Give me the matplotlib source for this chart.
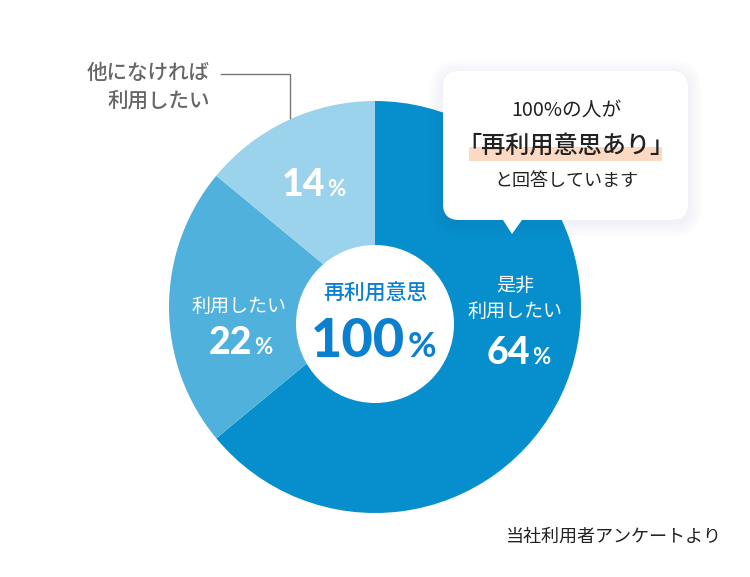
import matplotlib
matplotlib.use("Agg")
import matplotlib.pyplot as plt
from matplotlib.patches import Circle, FancyBboxPatch, Polygon, Rectangle

plt.rcParams['font.family'] = ['Noto Sans CJK JP', 'DejaVu Sans']

# 割合は時計回り、12時の位置から
values = [64, 22, 14]
colors = ['#068fcc', '#50b1dc', '#9bd2ec']
label_main = ['是非', '利用したい']
label_mid = '利用したい'
label_other = ['他になければ', '利用したい']
callout = ['100%の人が', '「再利用意思あり」', 'と回答しています']
center_title = '再利用意思'
center_value = 100
source = '当社利用者アンケートより'

W, H = 750, 577
fig = plt.figure(figsize=(W / 100, H / 100), dpi=100)

# 円グラフ用の軸: 中心 (375, 307)、半径 206
R = 206
ax = fig.add_axes([(375 - R) / W, 1 - (307 + R) / H, 2 * R / W, 2 * R / H])
ax.pie(values, colors=colors, startangle=90, counterclock=False, radius=1,
       wedgeprops={'linewidth': 0})
ax.set_xlim(-1, 1)
ax.set_ylim(-1, 1)

# 残りはピクセル座標で重ねる
ov = fig.add_axes([0, 0, 1, 1], zorder=5)
ov.set_xlim(0, W)
ov.set_ylim(H, 0)
ov.axis('off')

ov.add_patch(Circle((375, 324), 79, fc='white', ec='none'))

# 引き出し線
ov.plot([221, 290, 290], [73.5, 73.5, 118], color='#777777', lw=1, solid_joinstyle='miter')

# 吹き出しの影
for i in range(14, 0, -2):
    ov.add_patch(FancyBboxPatch((443 - i, 71 - i + 3), 245 + 2 * i, 149 + 2 * i,
                                boxstyle='round,pad=0,rounding_size=%d' % (16 + i),
                                fc='#5a7080', ec='none', alpha=0.006))
ov.add_patch(FancyBboxPatch((443, 71), 245, 149, boxstyle='round,pad=0,rounding_size=16',
                            fc='white', ec='none'))
ov.add_patch(Polygon([[503, 220], [522, 220], [512, 234]], fc='white', ec='none'))
ov.add_patch(Rectangle((469, 147), 193, 13.5, fc='#fbd9c3', ec='none'))

dark = '#222222'
ov.text(566, 111, callout[0], fontsize=14.2, color=dark, ha='center', va='center')
ov.text(566, 146, callout[1], fontsize=17.4, color=dark, ha='center', va='center', fontweight='medium')
ov.text(566, 181, callout[2], fontsize=13, color=dark, ha='center', va='center')

# ラベル
gray = '#666666'
ov.text(210, 73, label_other[0], fontsize=14.8, color=gray, ha='right', va='center', fontweight='medium')
ov.text(210, 101, label_other[1], fontsize=14.8, color=gray, ha='right', va='center', fontweight='medium')

ov.text(515, 285, label_main[0], fontsize=13.7, color='white', ha='center', va='center')
ov.text(515, 311, label_main[1], fontsize=13.7, color='white', ha='center', va='center')
ov.text(239, 306, label_mid, fontsize=13.7, color='white', ha='center', va='center')


def pct(x_right, y, value, size, small, color):
    # 数字と小さい % を並べる
    ov.text(x_right, y, '%', fontsize=small, color=color, ha='right', va='baseline',
            family='Lato', fontweight='bold')
    ov.text(x_right - small * 1.25, y, str(value), fontsize=size, color=color, ha='right',
            va='baseline', family='Lato', fontweight='black')


pct(550, 364, values[0], 27, 16, 'white')
pct(272, 354, values[1], 27, 16, 'white')
pct(345, 196, values[2], 27, 16, 'white')

blue = '#0b7fd0'
ov.text(375, 294, center_title, fontsize=15, color=blue, ha='center', va='center', fontweight='medium')
pct(436, 357, center_value, 39, 25, blue)

ov.text(722, 537, source, fontsize=13, color='#222222', ha='right', va='center')

fig.savefig('out.png', dpi=100)
